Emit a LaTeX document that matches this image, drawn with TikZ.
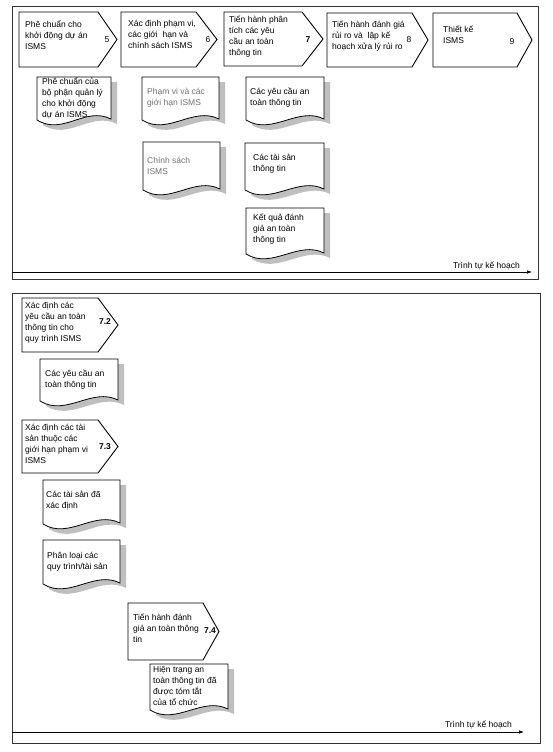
\documentclass[tikz,border=0pt]{standalone}
\usepackage{fontspec}
\setmainfont{Liberation Sans}
\usetikzlibrary{arrows.meta}
\tikzset{
  pentst/.style={draw=black, line width=0.9pt, fill=white, line join=miter},
  docst/.style={draw=black, line width=0.8pt, fill=white},
  shadowst/.style={fill=black!25, draw=none},
  framest/.style={draw=black!80, line width=0.6pt},
  txt/.style={anchor=north west, align=left, inner sep=0pt, yshift=9pt,
    font=\fontsize{8.5}{11}\selectfont, execute at begin node={\rule{0pt}{9pt}}},
  graytxt/.style={txt, text=black!55},
  numst/.style={anchor=center, inner sep=0pt, font=\fontsize{8.5}{11}\selectfont},
  boldnum/.style={numst, font=\fontsize{8.5}{11}\selectfont\bfseries},
  seqarrow/.style={line width=0.6pt, -{Latex[length=5pt,width=3.5pt]}}
}
% pentagon: x1, y1, x body end, x tip, y2
\newcommand\pentshape[5]{%
  \draw[pentst] (#1,#2) -- (#3,#2) -- (#4,{(#2+#5)/2}) -- (#3,#5) -- (#1,#5) -- cycle;}
% document: x1, y1, x2, y2 (left bottom corner)
\newcommand\docpath[4]{(#1,#2) -- (#3,#2) -- (#3,#4-1) .. controls +(-26,-13) and +(26,16) .. (#1,#4) -- cycle}
\newcommand\docshape[4]{%
  \begin{scope}[shift={(6,5)}]\fill[shadowst] \docpath{#1}{#2}{#3}{#4};\end{scope}
  \draw[docst] \docpath{#1}{#2}{#3}{#4};}
\begin{document}
\begin{tikzpicture}[x=1pt,y=-1pt]
\useasboundingbox (0,0) rectangle (553,752);
\fill[white] (0,0) rectangle (553,752);

% ---------- panel 1 ----------
\draw[framest] (12,6) rectangle (538,279);
\pentshape{19}{12}{98}{117}{67}
\pentshape{121}{12}{196}{217}{67}
\pentshape{224}{12}{302}{323}{66}
\pentshape{327}{13}{412}{428}{67}
\pentshape{433}{13}{517}{532}{67}

\node[txt] (p5) at (25,29) {Phê chuẩn cho\\khởi động dự án\\ISMS};
\node[numst] (n5) at (107,40) {5};
\node[txt] (p6) at (128,29) {Xác định phạm vi,\\các giới\ \ hạn và\\chính sách ISMS};
\node[numst] (n6) at (208,40) {6};
\node[txt] (p7) at (229,25) {Tiến hành phân\\tích các yêu\\cầu an toàn\\thông tin};
\node[boldnum] (n7) at (308,40) {7};
\node[txt] (p8) at (332,30) {Tiến hành đánh giá\\rủi ro và\ \ lập kế\\hoạch xửa lý rủi ro};
\node[numst] (n8) at (409,40) {8};
\node[txt] (p9) at (443,35) {Thiết kế\\ISMS};
\node[numst] (n9) at (512,42) {9};

\docshape{37}{77}{111}{120}
\node[txt] (d1) at (42,86) {Phê chuẩn của\\bộ phận quản lý\\cho khởi động\\dự án ISMS};
\docshape{142}{77}{219}{120}
\node[graytxt] (d2) at (147,97) {Phạm vi và các\\giới hạn ISMS};
\docshape{246}{77}{324}{120}
\node[txt] (d3) at (250,97) {Các yêu cầu an\\toàn thông tin};
\docshape{143}{142}{220}{190}
\node[graytxt] (d4) at (147,166) {Chính sách\\ISMS};
\docshape{245}{143}{324}{190}
\node[txt] (d5) at (253,163) {Các tài sản\\thông tin};
\docshape{246}{208}{324}{254}
\node[txt] (d6) at (253,223) {Kết quả đánh\\giá an toàn\\thông tin};

\coordinate (a1s) at (12,272);
\coordinate (a1e) at (532,272);
\draw[seqarrow] (a1s) -- (a1e);
\node[anchor=base east, inner sep=0pt, font=\fontsize{8.5}{11}\selectfont] (l1) at (520,268) {Trình tự kế hoạch};

% ---------- panel 2 ----------
\draw[framest] (12,293) rectangle (540,743);
\pentshape{22}{298}{98}{118}{352}
\node[txt] (q2) at (25,311) {Xác định các\\yêu cầu an toàn\\thông tin cho\\quy trình ISMS};
\node[boldnum] (m2) at (105,322) {7.2};
\docshape{40}{359}{118}{401}
\node[txt] (e1) at (45,379) {Các yêu cầu an\\toàn thông tin};

\pentshape{22}{420}{98}{118}{473}
\node[txt] (q3) at (25,433) {Xác định các tài\\sản thuộc các\\giới hạn phạm vi\\ISMS};
\node[boldnum] (m3) at (105,447) {7.3};
\docshape{43}{480}{120}{524}
\node[txt] (e2) at (46,500) {Các tài sản đã\\xác định};
\docshape{43}{540}{120}{584}
\node[txt] (e3) at (47,561) {Phân loại các\\quy trình/tài sản};

\pentshape{128}{603}{203}{219}{660}
\node[txt] (q4) at (133,623) {Tiến hành đánh\\giá an toàn thông\\tin};
\node[boldnum] (m4) at (210,631) {7.4};
\docshape{150}{664}{228}{710}
\node[txt] (e4) at (153,675) {Hiện trạng an\\toàn thông tin đã\\được tóm tắt\\của tổ chức};

\coordinate (a2s) at (12,732);
\coordinate (a2e) at (524,732);
\draw[seqarrow] (a2s) -- (a2e);
\node[anchor=base east, inner sep=0pt, font=\fontsize{8.5}{11}\selectfont] (l2) at (512,727) {Trình tự kế hoạch};
\end{tikzpicture}
\end{document}
